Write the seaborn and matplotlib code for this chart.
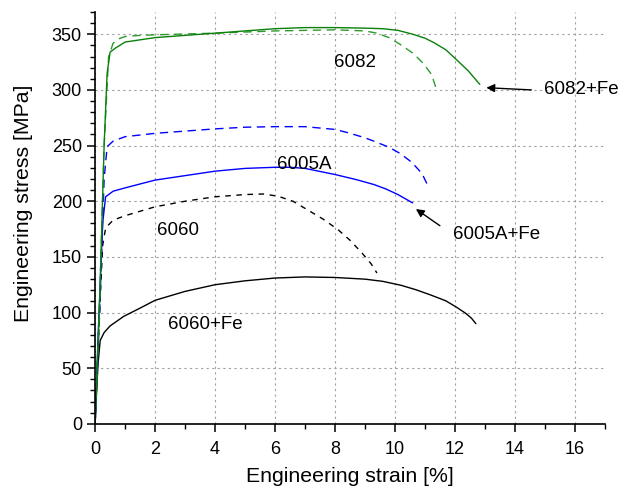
import numpy as np
import pandas as pd
import matplotlib
matplotlib.use("Agg")
import matplotlib.pyplot as plt
from matplotlib.ticker import MultipleLocator
import seaborn as sns

# Tensile curves: engineering strain [%] and engineering stress [MPa]
strain_6082fe = [0, 0.15, 0.3, 0.4, 0.5, 0.7, 1.0, 2, 3, 4, 5, 6, 7, 8, 9, 9.6, 10.1, 10.6, 11.0, 11.3, 11.7, 12.06, 12.45, 12.83]
stress_6082fe = [0, 110, 250, 315, 334, 338, 343, 347, 349, 351, 353, 355, 356, 356, 355.5, 355, 353.5, 350, 346.5, 342.5, 336, 327, 317, 305]

strain_6082 = [0, 0.15, 0.3, 0.45, 0.6, 0.8, 1.0, 1.5, 2, 4, 6, 8, 9, 9.4, 9.8, 10.17, 10.6, 10.94, 11.22, 11.39]
stress_6082 = [0, 110, 250, 330, 342, 346, 348, 349, 349.5, 351, 353, 354, 353, 351, 347, 341, 333, 324, 314, 300]

strain_6005a = [0, 0.15, 0.3, 0.4, 0.6, 1, 2, 3, 4, 5, 6, 7, 8, 8.44, 9, 9.39, 9.8, 10.17, 10.56, 10.9, 11.08]
stress_6005a = [0, 100, 220, 249, 254, 258, 261, 263, 265, 266.5, 267, 267, 264.5, 261.5, 257, 253, 248.5, 243, 235, 225, 215]

strain_6005afe = [0, 0.1, 0.25, 0.35, 0.6, 1, 2, 3, 4, 5, 6, 6.5, 7, 8, 8.7, 9.3, 9.7, 10.1, 10.59]
stress_6005afe = [0, 80, 180, 204, 209, 212, 219, 223, 227, 229.5, 230.5, 230.5, 229.5, 224, 219.5, 215, 211, 206, 198.5]

strain_6060 = [0, 0.1, 0.25, 0.35, 0.6, 1, 2, 3, 4, 5, 5.6, 6.1, 6.6, 7.1, 7.6, 8.1, 8.5, 8.9, 9.2, 9.4]
stress_6060 = [0, 70, 160, 176, 183, 187, 195, 200, 204, 206, 206.5, 204.5, 200, 192, 184, 174.5, 165, 153.5, 144, 135.5]

strain_6060fe = [0, 0.05, 0.1, 0.17, 0.3, 0.5, 0.95, 1.5, 2, 3, 4, 5, 6, 7, 8, 9, 9.6, 10.2, 10.7, 11.17, 11.7, 12.07, 12.35, 12.55, 12.7]
stress_6060fe = [0, 30, 55, 75, 82, 88, 96.5, 104, 111, 119, 125, 128.5, 131, 132, 131.5, 130, 128, 124.5, 120.5, 116, 110.5, 104.5, 99.5, 95, 90]

sns.set_theme(style="white")
plt.rcParams["font.family"] = ["Liberation Sans", "DejaVu Sans"]
plt.rcParams["text.color"] = "black"

fig = plt.figure(figsize=(6.3, 4.9), dpi=100)
ax = fig.add_axes([0.151, 0.135, 0.809, 0.8405])

curves = [
    (strain_6060fe, stress_6060fe, "black", "-"),
    (strain_6060, stress_6060, "black", (0, (4, 4))),
    (strain_6005afe, stress_6005afe, "#0000ff", "-"),
    (strain_6005a, stress_6005a, "#0000ff", (0, (6, 4))),
    (strain_6082, stress_6082, "#2e9a2e", (0, (6, 4))),
    (strain_6082fe, stress_6082fe, "#0a800a", "-"),
]
for xs, ys, col, ls in curves:
    df = pd.DataFrame({"strain": xs, "stress": ys})
    sns.lineplot(data=df, x="strain", y="stress", ax=ax, color=col,
                 linestyle=ls, linewidth=1.0, sort=False, estimator=None)

ax.set_xlim(0, 17)
ax.set_ylim(0, 370)
ax.xaxis.set_minor_locator(MultipleLocator(1))
ax.yaxis.set_minor_locator(MultipleLocator(10))
ax.set_xticks(np.arange(0, 17, 2))
ax.set_yticks(np.arange(0, 351, 50))

ax.grid(True, which="major", color="#a0a0a0", linestyle=(0, (2, 3)), linewidth=0.8)
for side in ("top", "right"):
    ax.spines[side].set_visible(False)
for side in ("left", "bottom"):
    ax.spines[side].set_color("black")
    ax.spines[side].set_linewidth(1.2)

ax.tick_params(which="major", direction="out", length=6, width=1.1, colors="black",
               labelsize=13, bottom=True, left=True)
ax.tick_params(axis="x", which="major", pad=6)
ax.tick_params(which="minor", direction="out", length=3.5, width=1.0, colors="black",
               bottom=True, left=True)

ax.set_xlabel("Engineering strain [%]", fontsize=15.3, color="black", labelpad=7)
ax.set_ylabel("Engineering stress [MPa]", fontsize=15.3, color="black")
ax.yaxis.set_label_coords(-0.122, 0.536)

txt = dict(fontsize=13.5, color="black", ha="center", va="center")
ax.text(8.67, 325, "6082", **txt)
ax.text(6.97, 233, "6005A", **txt)
ax.text(2.77, 174, "6060", **txt)
ax.text(3.67, 89, "6060+Fe", **txt)
ax.text(16.2, 300, "6082+Fe", **txt)
ax.text(13.4, 170, "6005A+Fe", **txt)

arrow = dict(arrowstyle="-|>", color="black", lw=1.0, shrinkA=0, shrinkB=0,
             mutation_scale=12)
ax.annotate("", xy=(13.05, 302), xytext=(14.55, 300), arrowprops=arrow)
ax.annotate("", xy=(10.7, 193), xytext=(11.5, 178), arrowprops=arrow)

fig.savefig("out.png", dpi=100)
